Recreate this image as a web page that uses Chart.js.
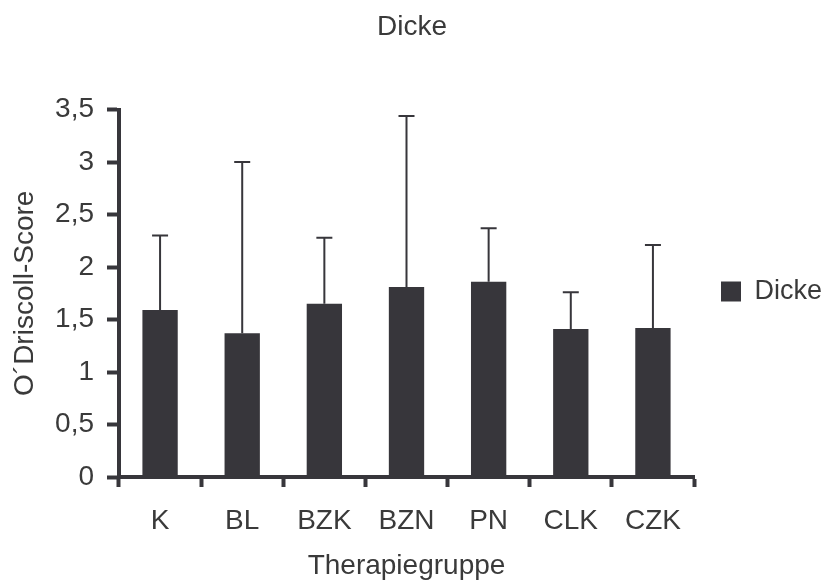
<!DOCTYPE html>
<html>
<head>
<meta charset="utf-8">
<script src="https://cdn.jsdelivr.net/npm/chart.js@4/dist/chart.umd.min.js"></script>
<style>
  html, body { margin: 0; padding: 0; background: #fff; }
  #wrap { width: 824px; height: 583px; }
</style>
</head>
<body>
<div id="wrap"><canvas id="barChart" width="824" height="583"></canvas></div>
<script>
  'use strict'

  // Daten
  var categories = ['K', 'BL', 'BZK', 'BZN', 'PN', 'CLK', 'CZK']
  var dickeMean = [1.59, 1.37, 1.65, 1.81, 1.86, 1.41, 1.42]
  var dickeSD = [0.71, 1.63, 0.63, 1.63, 0.51, 0.35, 0.79]
  var yTicks = [0, 0.5, 1, 1.5, 2, 2.5, 3, 3.5]

  var dark = '#37363b'
  var textColor = '#3a3a3a'
  var fontFamily = '"Liberation Sans", Arial, sans-serif'

  Chart.defaults.font.family = fontFamily
  Chart.defaults.color = textColor

  // upper error bars (mean + SD)
  var errorBars = {
    id: 'errorBars',
    afterDatasetsDraw: function (chart) {
      var ctx = chart.ctx
      var yScale = chart.scales.y
      var meta = chart.getDatasetMeta(0)
      ctx.save()
      ctx.strokeStyle = dark
      ctx.lineWidth = 2
      meta.data.forEach(function (bar, i) {
        var yTop = yScale.getPixelForValue(dickeMean[i] + dickeSD[i])
        ctx.beginPath()
        ctx.moveTo(bar.x, bar.y)
        ctx.lineTo(bar.x, yTop)
        ctx.moveTo(bar.x - 8, yTop)
        ctx.lineTo(bar.x + 8, yTop)
        ctx.stroke()
      })
      ctx.restore()
    }
  }

  var barCanvas = document.getElementById('barChart').getContext('2d')
  // eslint-disable-next-line no-unused-vars
  var barChart = new Chart(barCanvas, {
    type: 'bar',
    data: {
      labels: categories,
      datasets: [
        {
          label: 'Dicke',
          data: dickeMean,
          backgroundColor: dark,
          borderWidth: 0,
          barPercentage: 0.43,
          categoryPercentage: 1
        }
      ]
    },
    options: {
      responsive: false,
      animation: false,
      layout: { padding: 0 },
      plugins: {
        title: {
          display: true,
          text: 'Dicke',
          color: textColor,
          font: { size: 28, weight: 'normal' },
          padding: { top: 10, bottom: 66 }
        },
        legend: {
          position: 'right',
          align: 'center',
          maxWidth: 130,
          labels: {
            boxWidth: 20,
            boxHeight: 20,
            padding: 27,
            color: textColor,
            font: { size: 27 }
          }
        },
        tooltip: { enabled: false }
      },
      scales: {
        x: {
          grid: {
            offset: true,
            drawOnChartArea: false,
            drawTicks: true,
            tickLength: 10,
            tickWidth: 4,
            tickColor: dark
          },
          border: { display: true, color: dark, width: 4 },
          ticks: { color: textColor, font: { size: 28 }, padding: 17 },
          title: {
            display: true,
            text: 'Therapiegruppe',
            color: textColor,
            font: { size: 28 },
            padding: { top: 0, bottom: 0 }
          },
          afterFit: function (scale) { scale.height = 106 }
        },
        y: {
          min: 0,
          max: 3.5,
          afterBuildTicks: function (scale) {
            scale.ticks = yTicks.map(function (v) { return { value: v } })
          },
          grid: {
            drawOnChartArea: false,
            drawTicks: true,
            tickLength: 12,
            tickWidth: 4,
            tickColor: dark
          },
          border: { display: true, color: dark, width: 4 },
          ticks: {
            color: textColor,
            font: { size: 28 },
            padding: 13,
            callback: function (v) { return String(v).replace('.', ',') }
          },
          title: {
            display: true,
            text: 'O´Driscoll-Score',
            color: textColor,
            font: { size: 28 },
            padding: { top: 8, bottom: 0 }
          },
          afterFit: function (scale) { scale.width = 119 }
        }
      }
    },
    plugins: [errorBars]
  })
</script>
</body>
</html>
